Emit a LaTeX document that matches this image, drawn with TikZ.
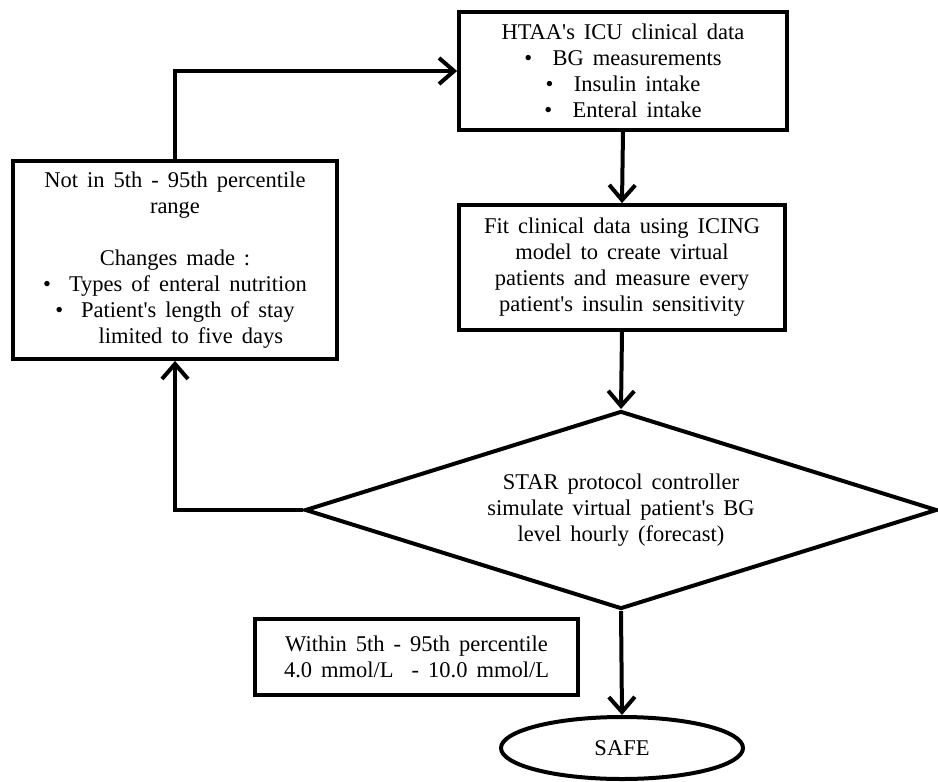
\documentclass[tikz,border=0pt]{standalone}
\usepackage{fontspec}
\setmainfont{Liberation Serif}[WordSpace=1.6]
\usetikzlibrary{shapes.geometric,arrows.meta}
\newcommand{\apos}{\textquotesingle}
\begin{document}
\begin{tikzpicture}[x=1pt,y=-1pt,
  every node/.style={font=\fontsize{22.5}{26}\selectfont, align=center, inner sep=0pt},
  boxst/.style={draw, rectangle, line width=3.8pt},
  arr/.style={line width=4pt, -{Straight Barb[length=15pt,width=26pt]}}]
\useasboundingbox (0,0) rectangle (938,782);
\node[boxst, minimum width=328pt, minimum height=118pt] (top) at (623,71)
  {HTAA\apos s ICU clinical data\\
   \textbullet\hspace{0.9em}BG measurements\\
   \textbullet\hspace{0.9em}Insulin intake\\
   \textbullet\hspace{0.9em}Enteral intake};
\node[boxst, minimum width=326pt, minimum height=125pt] (fit) at (622,267.5)
  {Fit clinical data using ICING\\
   model to create virtual\\
   patients and measure every\\
   patient\apos s insulin sensitivity};
\node[boxst, minimum width=324pt, minimum height=198pt] (left) at (175,260)
  {Not in 5th - 95th percentile\\
   range\\[26pt]
   Changes made :\\
   \textbullet\hspace{0.8em}Types of enteral nutrition\\
   \textbullet\hspace{0.8em}Patient\apos s length of stay\\
   \hspace*{1.4em}limited to five days};
\node[diamond, draw, line width=4pt, aspect=3.2, minimum width=632pt, minimum height=198pt] (dia) at (621,510)
  {STAR protocol controller\\
   simulate virtual patient\apos s BG\\
   level hourly (forecast)};
\node[boxst, minimum width=323pt, minimum height=76pt] (within) at (416.5,657)
  {Within 5th - 95th percentile\\
   4.0 mmol/L \ - 10.0 mmol/L};
\node[ellipse, draw, line width=4pt, minimum width=242pt, minimum height=62pt] (safe) at (622,748)
  {SAFE};
\draw[arr] (top.south) -- (fit.north);
\draw[arr] (fit.south) -- (dia.north);
\draw[arr] (dia.south) -- (safe.north);
\draw[arr] (dia.west) -| (left.south);
\draw[arr] (left.north) |- (top.west);
\end{tikzpicture}
\end{document}
